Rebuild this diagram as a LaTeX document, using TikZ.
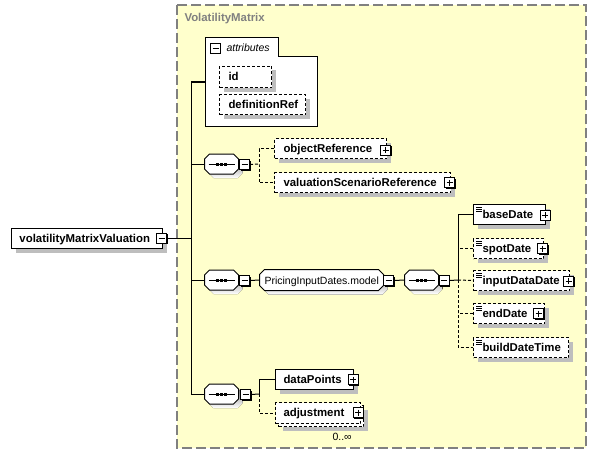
\documentclass[tikz,border=0pt]{standalone}
\usepackage{fontspec}
\setmainfont{Liberation Sans}
\definecolor{paper}{RGB}{255,255,204}
\definecolor{shade}{RGB}{190,190,190}
\definecolor{framegray}{RGB}{128,128,128}
\newcommand\seqdots[1]{%
  \draw ([xshift=4pt]#1.west) -- ([xshift=-4pt]#1.east);
  \foreach \dx in {-4,0,4} \fill ([xshift=\dx pt]#1.center) +(-1.5,-1.5) rectangle +(1.5,1.5);
}
\newcommand\typeicon[1]{%
  \foreach \dy in {3,5,7} \draw[line width=0.8pt] ([xshift=3pt,yshift=-\dy pt]#1.north west) -- ([xshift=9pt,yshift=-\dy pt]#1.north west);
}
\newcommand\octo[1]{%
  \fill[shade,transform canvas={xshift=4pt,yshift=-4pt},oct=#1];
  \filldraw[fill=white,draw=black,oct=#1];
}
\begin{document}
\begin{tikzpicture}[x=1pt,y=-1pt,line width=1pt,
  shadowed/.style={preaction={fill=shade,draw=none,transform canvas={xshift=4pt,yshift=-4pt}}},
  box/.style={rectangle,draw,fill=white,inner sep=0pt,minimum height=20pt,anchor=north west},
  elem/.style={box,shadowed},
  optbox/.style={box,dash pattern=on 3pt off 2pt},
  optelem/.style={optbox,shadowed},
  lbl/.style={anchor=base west,inner sep=0pt,font=\fontsize{11.4}{13}\selectfont\bfseries},
  plainbtn/.style={rectangle,draw,fill=white,minimum size=10pt,inner sep=0pt},
  btn/.style={plainbtn,preaction={fill=black,draw=none,transform canvas={xshift=1pt,yshift=-1pt}}},
  minusmark/.style={path picture={\draw ([xshift=2pt]path picture bounding box.west) -- ([xshift=-2pt]path picture bounding box.east);}},
  plusmark/.style={path picture={\draw ([xshift=2pt]path picture bounding box.west) -- ([xshift=-2pt]path picture bounding box.east); \draw ([yshift=-2pt]path picture bounding box.north) -- ([yshift=2pt]path picture bounding box.south);}},
  minusbtn/.style={btn,minusmark},
  plusbtn/.style={btn,plusmark},
  seqframe/.style={rectangle,inner sep=0pt,minimum width=33pt,minimum height=19pt},
  oct/.style={insert path={([xshift=5pt]#1.north west) -- ([xshift=-5pt]#1.north east) -- ([yshift=-5pt]#1.north east) -- ([yshift=5pt]#1.south east) -- ([xshift=-5pt]#1.south east) -- ([xshift=5pt]#1.south west) -- ([yshift=5pt]#1.south west) -- ([yshift=-5pt]#1.north west) -- cycle}},
  optline/.style={dash pattern=on 3pt off 2pt}]
\useasboundingbox (0,0) rectangle (597,460);
\fill[white] (0,0) rectangle (597,460);
% group frame
\draw[framegray,fill=paper,line width=1.5pt,dash pattern=on 10pt off 4pt] (177,5) rectangle (586,448);
\node[lbl,text=framegray] (title) at (184,22) {VolatilityMatrix};
% attributes
\draw[fill=white] (205,38) -- (278,38) -- (278,57) -- (317,57) -- (317,126) -- (205,126) -- cycle;
\coordinate (attr) at (205,82);
\node[plainbtn,minusmark] (attrbtn) at (215.5,48.5) {};
\node[anchor=base west,inner sep=0pt,font=\fontsize{10.5}{12}\selectfont\itshape] (attrlbl) at (226,52) {attributes};
\node[optelem,minimum width=52pt,minimum height=21pt] (id) at (219,66) {};
\node[lbl] (idlbl) at (228,80.5) {id};
\node[optelem,minimum width=86pt] (defref) at (219,94) {};
\node[lbl] (defreflbl) at (228,108) {definitionRef};
% bus
\coordinate (btop) at (191,82);
\coordinate (bbot) at (191,394);
\draw (btop) -- (bbot);
\draw (btop) -- (attr);
% root element
\node[elem,minimum width=151pt] (vmv) at (11,228) {};
\node[lbl] (vmvlbl) at (19,242) {volatilityMatrixValuation};
\node[minusbtn] (vmvbtn) at (161.5,238) {};
\draw (vmvbtn.east) -- (vmvbtn.east -| btop);
% sequence 1
\node[seqframe] (seq1) at (221.5,164) {};
\octo{seq1}
\seqdots{seq1}
\draw (seq1.west) -- (seq1.west -| btop);
\node[minusbtn] (s1btn) at (244.5,164.5) {};
\coordinate (j1) at (259,164);
\node[optelem,minimum width=112pt] (objref) at (274,138) {};
\node[lbl] (objreflbl) at (283,152) {objectReference};
\node[plusbtn] (objrefbtn) at (385.5,150) {};
\node[optelem,minimum width=176pt] (valref) at (274,172) {};
\node[lbl] (valreflbl) at (283,186) {valuationScenarioReference};
\node[plusbtn] (valrefbtn) at (449.5,182.5) {};
\draw[optline] (s1btn.east) -- (j1);
\draw[optline] (objref.west) -| (j1) |- (valref.west);
% sequence 2
\node[seqframe] (seq2) at (221.5,280) {};
\octo{seq2}
\seqdots{seq2}
\draw (seq2.west) -- (seq2.west -| btop);
\node[minusbtn] (s2btn) at (244.5,280.5) {};
\node[rectangle,inner sep=0pt,minimum width=123pt,minimum height=20pt] (pid) at (321.5,280) {};
\octo{pid}
\node[anchor=base west,inner sep=0pt,font=\fontsize{10.5}{12}\selectfont] (pidlbl) at (264,284) {PricingInputDates.model};
\node[minusbtn] (pidbtn) at (388.5,280.5) {};
\draw (s2btn.east) -- (pid.west);
% sequence 3
\node[seqframe] (seq3) at (421.5,280) {};
\octo{seq3}
\seqdots{seq3}
\draw (pidbtn.east) -- (seq3.west);
\node[minusbtn] (s3btn) at (444,280.5) {};
\coordinate (j3) at (458,280);
\node[elem,minimum width=72pt] (base) at (473,204) {};
\typeicon{base}
\node[lbl] (baselbl) at (482,218) {baseDate};
\node[plusbtn] (basebtn) at (545,215) {};
\node[optelem,minimum width=70pt] (spot) at (473,238) {};
\typeicon{spot}
\node[lbl] (spotlbl) at (482,252) {spotDate};
\node[plusbtn] (spotbtn) at (542.5,248.5) {};
\node[optelem,minimum width=96pt] (input) at (473,270) {};
\typeicon{input}
\node[lbl] (inputlbl) at (482,284) {inputDataDate};
\node[plusbtn] (inputbtn) at (568.5,281) {};
\node[optelem,minimum width=71pt] (enddate) at (473,303) {};
\typeicon{enddate}
\node[lbl] (endlbl) at (482,317) {endDate};
\node[plusbtn] (endbtn) at (538.5,313.5) {};
\node[optelem,minimum width=95pt] (build) at (473,337) {};
\typeicon{build}
\node[lbl] (buildlbl) at (482,351) {buildDateTime};
\draw (s3btn.east) -- (j3);
\draw (j3) |- (base.west);
\draw[optline] (spot.west) -- (spot.west -| j3);
\draw[optline] (j3) -- (input.west);
\draw[optline] (enddate.west) -- (enddate.west -| j3);
\draw[optline] (j3) |- (build.west);
% sequence 4
\node[seqframe] (seq4) at (221.5,394) {};
\octo{seq4}
\seqdots{seq4}
\draw (seq4.west) -- (seq4.west -| btop);
\node[minusbtn] (s4btn) at (245.5,394.5) {};
\coordinate (j4) at (259,394);
\node[elem,minimum width=78pt] (dp) at (275,369) {};
\node[lbl] (dplbl) at (283,383) {dataPoints};
\node[plusbtn] (dpbtn) at (353,379.5) {};
\node[optelem,minimum width=85pt,minimum height=21pt] (adjback) at (278,405) {};
\node[optbox,minimum width=85pt,minimum height=21pt] (adj) at (275,402) {};
\node[lbl] (adjlbl) at (283,416.5) {adjustment};
\node[plusbtn] (adjbtn) at (358,412.5) {};
\node[anchor=base west,inner sep=0pt,font=\fontsize{10.5}{12}\selectfont] (card) at (332,440) {0..∞};
\draw (s4btn.east) -- (j4);
\draw (j4) |- (dp.west);
\draw[optline] (j4) |- (adj.west);
\end{tikzpicture}
\end{document}
